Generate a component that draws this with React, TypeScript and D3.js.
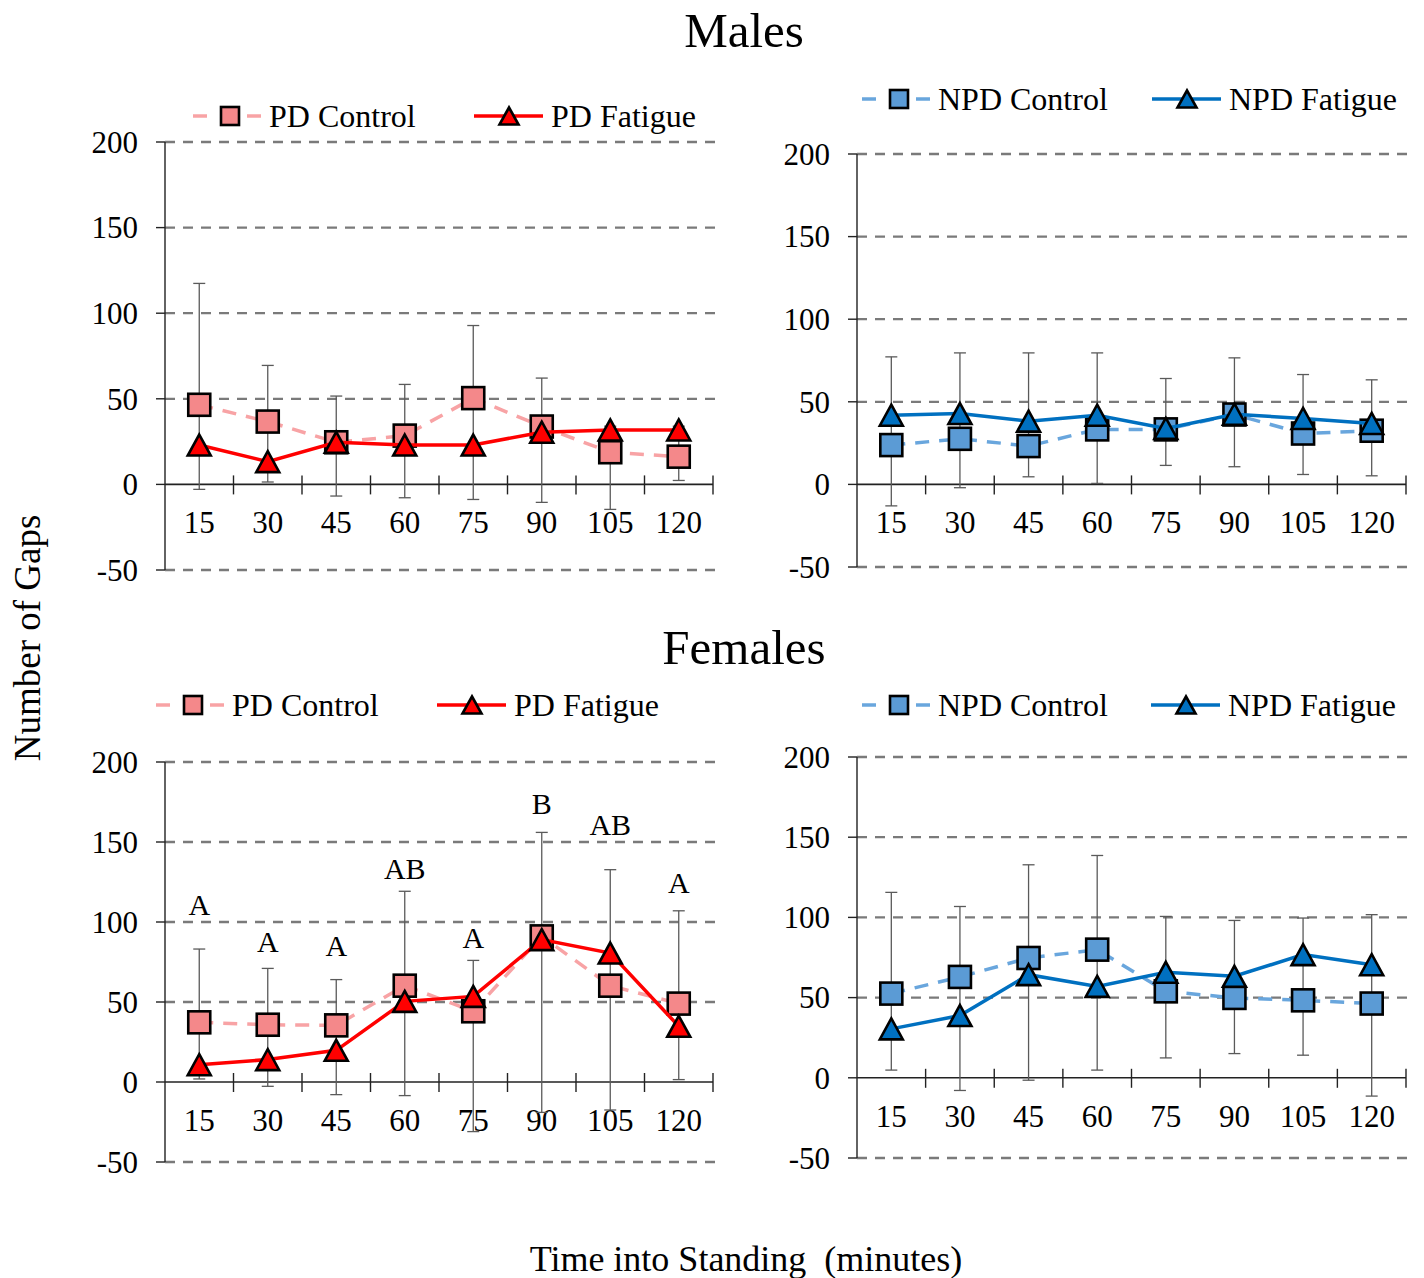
import React from "react";
import * as d3 from "d3";

// ---------- Data ----------
const minutes = ["15", "30", "45", "60", "75", "90", "105", "120"];
const yTicks = [-50, 0, 50, 100, 150, 200];

// Males – PD
const malePdControl = [46.5, 36.7, 24.6, 28.5, 50.4, 33.8, 18.8, 16.2];
const malePdFatigue = [23, 13.3, 24.6, 23, 23, 30.5, 31.8, 31.8];
const malePdErrHigh = [117.4, 69.5, 51.6, 58.4, 92.8, 62.1, 34, 34];
const malePdErrLow = [-2.9, 1.4, -6.8, -7.8, -8.8, -10.5, -14.6, 2.3];

// Males – NPD
const maleNpdControl = [23.8, 27.6, 23.2, 33.3, 33.3, 42.3, 30.8, 32.5];
const maleNpdFatigue = [41.9, 42.9, 38.3, 41.9, 33.9, 42.5, 39.9, 36.9];
const maleNpdErrHigh = [77.2, 79.6, 79.6, 79.6, 64.1, 76.6, 66.5, 63.3];
const maleNpdErrLow = [-13, -2, 4.6, 0.6, 11.5, 10.7, 6, 5.2];

// Females – PD
const femalePdControl = [37.3, 35.8, 35.4, 60.2, 44.2, 91, 60.2, 49];
const femalePdFatigue = [10.8, 14, 19.8, 50.4, 53.5, 89, 80.6, 34.8];
const femalePdErrHigh = [83.1, 71, 64, 119.2, 76, 156, 132.7, 107];
const femalePdErrLow = [1.9, -2.7, -7.9, -8.5, -31, -19, -17.5, 1.5];
const femalePdLetters = ["A", "A", "A", "AB", "A", "B", "AB", "A"];
const femalePdLetterAt = [111, 88, 85.6, 133.7, 90.6, 174, 161, 125];

// Females – NPD
const femaleNpdControl = [52.5, 62.9, 74.7, 79.9, 53.9, 49.8, 48.3, 46.3];
const femaleNpdFatigue = [30.5, 38.8, 64.3, 57, 65.8, 63.3, 76.8, 70.5];
const femaleNpdErrHigh = [115.6, 106.8, 132.8, 138.6, 100.6, 98.1, 99.6, 101.7];
const femaleNpdErrLow = [4.8, -7.9, -1.5, 4.8, 12.4, 15.1, 14.1, -11.4];

// ---------- Styles ----------
const FONT = "'Liberation Serif', 'Times New Roman', Times, serif";
const PD_STYLE = {
  ctrlName: "PD Control",
  fatName: "PD Fatigue",
  ctrlFill: "#F4888A",
  ctrlLine: "#F8A3A5",
  fatFill: "#FF0000",
  fatLine: "#FF0000",
};
const NPD_STYLE = {
  ctrlName: "NPD Control",
  fatName: "NPD Fatigue",
  ctrlFill: "#5B9BD5",
  ctrlLine: "#69A6DD",
  fatFill: "#0070C0",
  fatLine: "#0070C0",
};

const panels = [
  {
    key: "mpd", x0: 165, x1: 713, yTop: 142, yBot: 570,
    legend: { y: 116, c: 193, f: 474 }, style: PD_STYLE,
    control: malePdControl, fatigue: malePdFatigue, hi: malePdErrHigh, lo: malePdErrLow,
  },
  {
    key: "mnpd", x0: 857, x1: 1406, yTop: 154, yBot: 567,
    legend: { y: 99, c: 862, f: 1152 }, style: NPD_STYLE,
    control: maleNpdControl, fatigue: maleNpdFatigue, hi: maleNpdErrHigh, lo: maleNpdErrLow,
  },
  {
    key: "fpd", x0: 165, x1: 713, yTop: 762, yBot: 1162,
    legend: { y: 705, c: 156, f: 437 }, style: PD_STYLE,
    control: femalePdControl, fatigue: femalePdFatigue, hi: femalePdErrHigh, lo: femalePdErrLow,
    letters: femalePdLetters, letterAt: femalePdLetterAt,
  },
  {
    key: "fnpd", x0: 857, x1: 1406, yTop: 757, yBot: 1158,
    legend: { y: 705, c: 862, f: 1151 }, style: NPD_STYLE,
    control: femaleNpdControl, fatigue: femaleNpdFatigue, hi: femaleNpdErrHigh, lo: femaleNpdErrLow,
  },
];

const SQ = 22;
const TRI_W = 23;
const TRI_H = 21;

function Square({ cx, cy, fill, size = SQ }: any) {
  return (
    <rect x={cx - size / 2} y={cy - size / 2} width={size} height={size}
      fill={fill} stroke="#000" strokeWidth={2.6} />
  );
}
function Triangle({ cx, cy, fill, w = TRI_W, h = TRI_H }: any) {
  const p = `${cx},${cy - h / 2} ${cx + w / 2},${cy + h / 2} ${cx - w / 2},${cy + h / 2}`;
  return <polygon points={p} fill={fill} stroke="#000" strokeWidth={2.6} strokeLinejoin="miter" />;
}

function Panel({ p }: any) {
  const x = d3.scaleBand<string>().domain(minutes).range([p.x0, p.x1]).padding(0);
  const y = d3.scaleLinear().domain([-50, 200]).range([p.yBot, p.yTop]);
  const cx = (i: number) => (x(minutes[i]) as number) + x.bandwidth() / 2;
  const line = d3.line<number>().x((_, i) => cx(i)).y((v) => y(v));
  const s = p.style;
  const y0 = y(0);
  const L = p.legend;

  return (
    <g>
      {/* gridlines */}
      {yTicks.filter((t) => t !== 0).map((t) => (
        <line key={"g" + t} x1={p.x0} x2={p.x1 + 2} y1={y(t)} y2={y(t)}
          stroke="#7a7a7a" strokeWidth={2.3} strokeDasharray="10,8" />
      ))}
      {/* y axis */}
      <line x1={p.x0} x2={p.x0} y1={y(200)} y2={y(-50)} stroke="#222" strokeWidth={1.4} />
      {yTicks.map((t) => (
        <g key={"yt" + t}>
          <line x1={p.x0 - 9} x2={p.x0} y1={y(t)} y2={y(t)} stroke="#222" strokeWidth={1.4} />
          <text x={p.x0 - 27} y={y(t)} dy="0.35em" textAnchor="end" fontSize={31}
            fontFamily={FONT} fill="#000">{t}</text>
        </g>
      ))}
      {/* x axis */}
      <line x1={p.x0} x2={p.x1} y1={y0} y2={y0} stroke="#222" strokeWidth={1.6} />
      {minutes.map((m, i) => {
        const bx = (x(m) as number) + x.bandwidth();
        return (
          <g key={"xt" + m}>
            <line x1={bx} x2={bx} y1={y0 - 9} y2={y0 + 10} stroke="#222" strokeWidth={1.4} />
            <text x={cx(i)} y={y0 + 38} dy="0.35em" textAnchor="middle" fontSize={31}
              fontFamily={FONT} fill="#000">{m}</text>
          </g>
        );
      })}
      {/* error bars */}
      {minutes.map((m, i) => (
        <g key={"eb" + m} stroke="#5a5a5a" strokeWidth={1.3}>
          <line x1={cx(i)} x2={cx(i)} y1={y(p.hi[i])} y2={y(p.lo[i])} />
          <line x1={cx(i) - 6} x2={cx(i) + 6} y1={y(p.hi[i])} y2={y(p.hi[i])} />
          <line x1={cx(i) - 6} x2={cx(i) + 6} y1={y(p.lo[i])} y2={y(p.lo[i])} />
        </g>
      ))}
      {/* control series */}
      <path d={line(p.control) as string} fill="none" stroke={s.ctrlLine} strokeWidth={3.5}
        strokeDasharray="14,10" />
      {p.control.map((v: number, i: number) => (
        <Square key={"c" + i} cx={cx(i)} cy={y(v)} fill={s.ctrlFill} />
      ))}
      {/* fatigue series */}
      <path d={line(p.fatigue) as string} fill="none" stroke={s.fatLine} strokeWidth={3.5} />
      {p.fatigue.map((v: number, i: number) => (
        <Triangle key={"f" + i} cx={cx(i)} cy={y(v)} fill={s.fatFill} />
      ))}
      {/* significance letters */}
      {p.letters && p.letters.map((t: string, i: number) => (
        <text key={"l" + i} x={cx(i)} y={y(p.letterAt[i])} dy="0.35em" textAnchor="middle"
          fontSize={30} fontFamily={FONT} fill="#000">{t}</text>
      ))}
      {/* legend */}
      <g>
        <line x1={L.c} x2={L.c + 14} y1={L.y} y2={L.y} stroke={s.ctrlLine} strokeWidth={3.5} />
        <line x1={L.c + 54} x2={L.c + 68} y1={L.y} y2={L.y} stroke={s.ctrlLine} strokeWidth={3.5} />
        <Square cx={L.c + 37} cy={L.y} fill={s.ctrlFill} size={18} />
        <text x={L.c + 76} y={L.y} dy="0.35em" fontSize={32} fontFamily={FONT} fill="#000">{s.ctrlName}</text>
        <line x1={L.f} x2={L.f + 69} y1={L.y} y2={L.y} stroke={s.fatLine} strokeWidth={3.5} />
        <Triangle cx={L.f + 35} cy={L.y} fill={s.fatFill} w={19} h={17} />
        <text x={L.f + 77} y={L.y} dy="0.35em" fontSize={32} fontFamily={FONT} fill="#000">{s.fatName}</text>
      </g>
    </g>
  );
}

export default function App() {
  return (
    <svg width={1424} height={1278} viewBox="0 0 1424 1278"
      style={{ position: "absolute", left: 0, top: 0, background: "#fff" }}>
      <rect x={0} y={0} width={1424} height={1278} fill="#fff" />
      <text x={744} y={30} dy="0.35em" textAnchor="middle" fontSize={49} fontFamily={FONT}>Males</text>
      <text x={744} y={647} dy="0.35em" textAnchor="middle" fontSize={49} fontFamily={FONT}>Females</text>
      <text transform="translate(27,638) rotate(-90)" textAnchor="middle" dy="0.35em" fontSize={37}
        fontFamily={FONT}>Number of Gaps</text>
      <text x={746} y={1258} dy="0.35em" textAnchor="middle" fontSize={36} fontFamily={FONT}
        style={{ whiteSpace: "pre" }}>{"Time into Standing  (minutes)"}</text>
      {panels.map((p) => (
        <Panel key={p.key} p={p} />
      ))}
    </svg>
  );
}
